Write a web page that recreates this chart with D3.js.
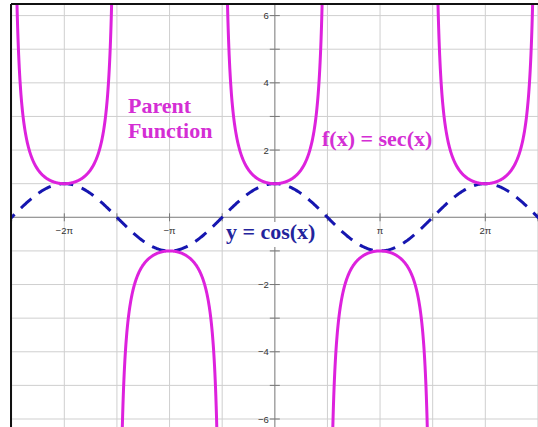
<!DOCTYPE html>
<html>
<head>
<meta charset="utf-8">
<script src="https://cdn.jsdelivr.net/npm/d3@7"></script>
<style>
  body { margin: 0; background: #fff; }
  svg { display: block; }
  .tick-label { font-family: "Liberation Sans", Arial, sans-serif; font-size: 9.5px; fill: #333; }
  .note { font-family: "Liberation Serif", "Times New Roman", serif; font-size: 22px; font-weight: bold; }
</style>
</head>
<body>
<div id="chart"></div>
<script>
const PI = Math.PI;

// x grid / ticks every pi/2, labels only at multiples of pi
const xGridValues = [-5, -4, -3, -2, -1, 0, 1, 2, 3, 4, 5].map((k) => (k * PI) / 2);
const xLabelValues = [-2 * PI, -PI, PI, 2 * PI];
const xLabelText = ["\u22122\u03c0", "\u2212\u03c0", "\u03c0", "2\u03c0"];

// y grid / ticks every 1, labels at even values
const yGridValues = [-6, -5, -4, -3, -2, -1, 0, 1, 2, 3, 4, 5, 6];
const yLabelValues = [-6, -4, -2, 2, 4, 6];

// centres of the secant branches (vertex of each U)
const secBranchCenters = [-2 * PI, -PI, 0, PI, 2 * PI];

// text annotations: [text, x, y, colour key]
const noteText = ["Parent", "Function", "f(x) = sec(x)", "y = cos(x)"];
const noteX = [-4.38, -4.38, 1.41, -1.46];
const noteY = [3.1, 2.36, 2.12, -0.645];
const noteKind = ["sec", "sec", "sec", "cos"];

const width = 538;
const height = 427;
const plot = { left: 11, top: 4, right: 538, bottom: 427 };
const secColor = "#dd22dd";
const secText = "#d42ed4";
const cosColor = "#1616b0";
const cosText = "#24249c";

const x = d3.scaleLinear().domain([-2 * PI, 2 * PI]).range([64.3, 485.3]);
const y = d3.scaleLinear().domain([-6, 6]).range([419, 15.6]);

const svg = d3.select("#chart").append("svg")
  .attr("width", width)
  .attr("height", height);

svg.append("clipPath").attr("id", "plot-clip")
  .append("rect")
  .attr("x", plot.left)
  .attr("y", plot.top)
  .attr("width", plot.right - plot.left)
  .attr("height", plot.bottom - plot.top);

const g = svg.append("g").attr("clip-path", "url(#plot-clip)");

// grid
g.append("g").selectAll("line")
  .data(xGridValues)
  .join("line")
  .attr("x1", (d) => x(d)).attr("x2", (d) => x(d))
  .attr("y1", plot.top).attr("y2", plot.bottom)
  .attr("stroke", "#cfcfcf").attr("stroke-width", 1);

g.append("g").selectAll("line")
  .data(yGridValues)
  .join("line")
  .attr("y1", (d) => y(d)).attr("y2", (d) => y(d))
  .attr("x1", plot.left).attr("x2", plot.right)
  .attr("stroke", "#cfcfcf").attr("stroke-width", 1);

// axes
g.append("line")
  .attr("x1", plot.left).attr("x2", plot.right)
  .attr("y1", y(0)).attr("y2", y(0))
  .attr("stroke", "#9a9a9a").attr("stroke-width", 1.2);
g.append("line")
  .attr("x1", x(0)).attr("x2", x(0))
  .attr("y1", plot.top).attr("y2", plot.bottom)
  .attr("stroke", "#9a9a9a").attr("stroke-width", 1.2);

g.append("g").selectAll("line")
  .data(xGridValues.filter((d) => d !== 0))
  .join("line")
  .attr("x1", (d) => x(d)).attr("x2", (d) => x(d))
  .attr("y1", y(0) - 4).attr("y2", y(0) + 4)
  .attr("stroke", "#777");

g.append("g").selectAll("line")
  .data(yGridValues.filter((d) => d !== 0))
  .join("line")
  .attr("y1", (d) => y(d)).attr("y2", (d) => y(d))
  .attr("x1", x(0) - 5).attr("x2", x(0) + 5)
  .attr("stroke", "#777");

g.append("g").selectAll("text")
  .data(xLabelValues)
  .join("text")
  .attr("class", "tick-label")
  .attr("x", (d) => x(d))
  .attr("y", y(0) + 17)
  .attr("text-anchor", "middle")
  .text((d, i) => xLabelText[i]);

g.append("g").selectAll("text")
  .data(yLabelValues)
  .join("text")
  .attr("class", "tick-label")
  .attr("x", x(0) - 6)
  .attr("y", (d) => y(d) + 3.5)
  .attr("text-anchor", "end")
  .text((d) => (d < 0 ? "\u2212" + Math.abs(d) : d));

// y = cos(x), dashed
const cosPts = d3.range(0, 601).map((i) => {
  const t = -8 + (16 * i) / 600;
  return [t, Math.cos(t)];
});
const line = d3.line().x((d) => x(d[0])).y((d) => y(d[1]));

g.append("path")
  .datum(cosPts)
  .attr("d", line)
  .attr("fill", "none")
  .attr("stroke", cosColor)
  .attr("stroke-width", 3)
  .attr("stroke-dasharray", "14 9")
  .attr("stroke-dashoffset", 3);

// f(x) = sec(x), one path per branch
const reach = Math.acos(1 / 9);
const secBranches = secBranchCenters.map((c) =>
  d3.range(0, 301).map((i) => {
    const t = c - reach + (2 * reach * i) / 300;
    return [t, 1 / Math.cos(t)];
  })
);

g.append("g").selectAll("path")
  .data(secBranches)
  .join("path")
  .attr("d", line)
  .attr("fill", "none")
  .attr("stroke", secColor)
  .attr("stroke-width", 3);

// annotations
const notes = noteText.map((t, i) => ({ t, x: noteX[i], y: noteY[i], kind: noteKind[i] }));

const noteG = svg.append("g");
noteG.selectAll("rect")
  .data(notes.filter((d) => d.kind === "cos"))
  .join("rect")
  .attr("x", (d) => x(d.x) - 2)
  .attr("y", (d) => y(d.y) - 17)
  .attr("width", 95)
  .attr("height", 25)
  .attr("fill", "#fff");

noteG.selectAll("text")
  .data(notes)
  .join("text")
  .attr("class", "note")
  .attr("x", (d) => x(d.x))
  .attr("y", (d) => y(d.y))
  .attr("fill", (d) => (d.kind === "sec" ? secText : cosText))
  .text((d) => d.t);

// frame (left and top edges visible in the crop)
svg.append("line")
  .attr("x1", plot.left).attr("x2", plot.left)
  .attr("y1", plot.top).attr("y2", height)
  .attr("stroke", "#111").attr("stroke-width", 2);
svg.append("line")
  .attr("x1", plot.left).attr("x2", width)
  .attr("y1", plot.top).attr("y2", plot.top)
  .attr("stroke", "#111").attr("stroke-width", 2);
</script>
</body>
</html>
